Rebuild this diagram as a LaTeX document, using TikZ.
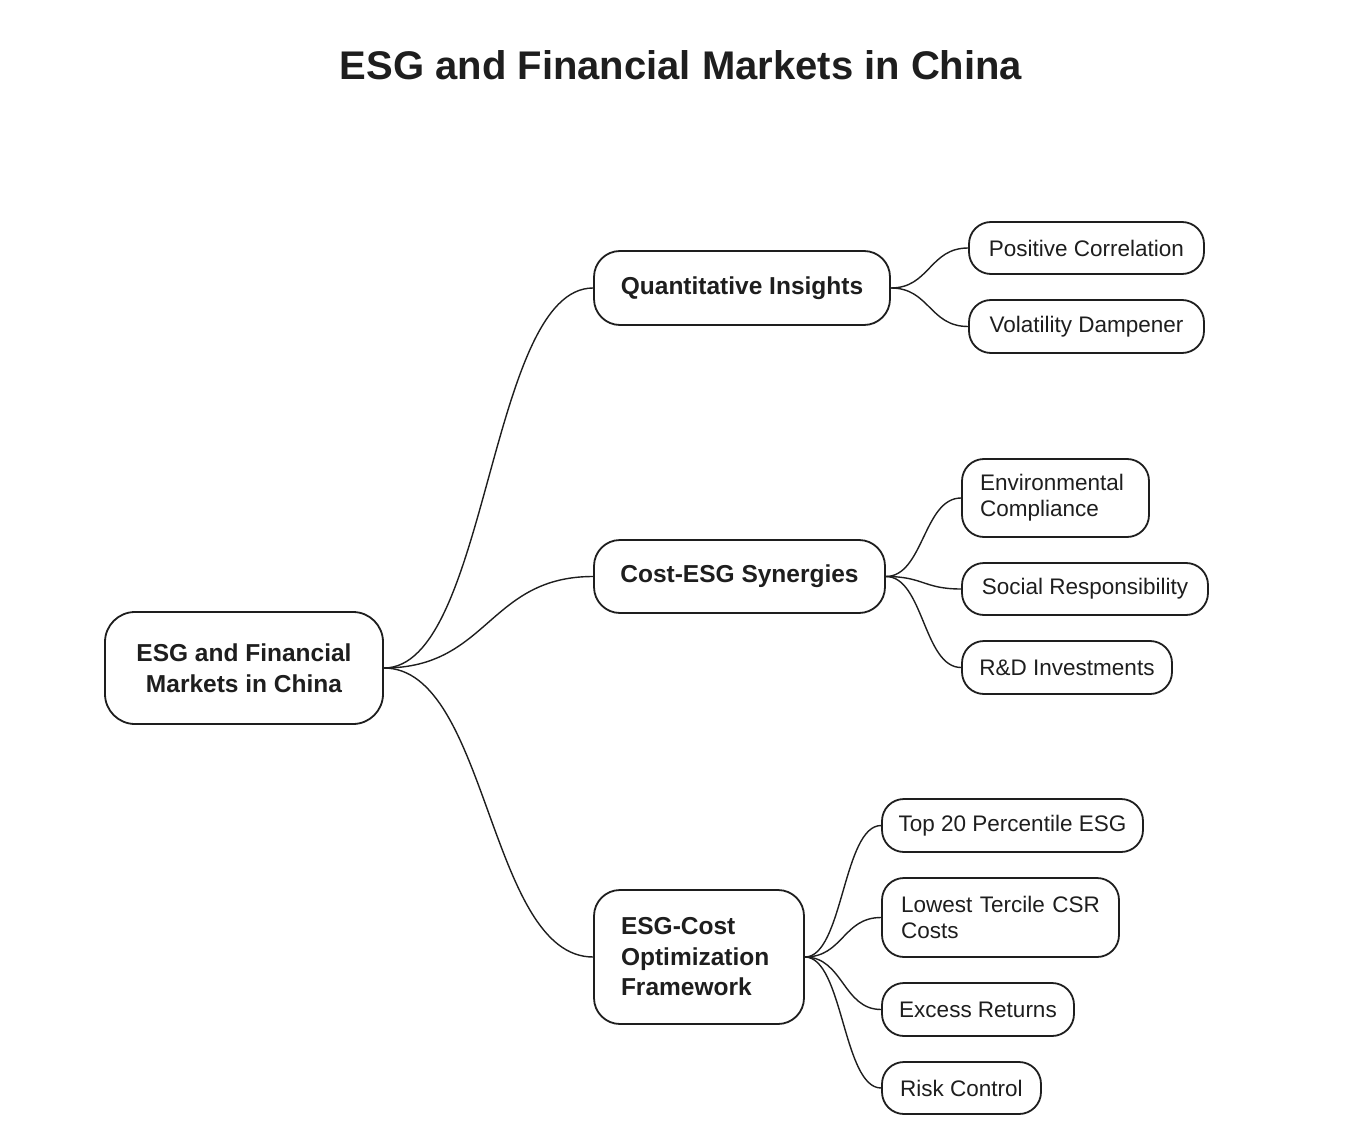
\documentclass[tikz,border=0pt]{standalone}
\usepackage{fontspec}
\setmainfont{Liberation Sans}
\usetikzlibrary{calc}
\definecolor{ink}{HTML}{1E1E1E}
\tikzset{
  box/.style={draw=ink, line width=1.8pt, fill=white, text=ink, inner xsep=0pt, inner ysep=0pt},
  rootbox/.style={box, rounded corners=30pt, font=\bfseries\fontsize{24.5}{31}\selectfont, align=center},
  midbox/.style={box, rounded corners=26pt, font=\bfseries\fontsize{24.5}{30.5}\selectfont, align=center},
  leafbox/.style={box, rounded corners=22pt, font=\fontsize{22.5}{26}\selectfont, align=center},
  conn/.style={draw=ink, line width=1.4pt, to path={let \p1=(\tikztostart), \p2=(\tikztotarget) in .. controls ({(\x1+\x2)/2},\y1) and ({(\x1+\x2)/2},\y2) .. (\tikztotarget) \tikztonodes}},
  titlestyle/.style={text=ink, font=\bfseries\fontsize{40}{48}\selectfont}
}
\begin{document}
\begin{tikzpicture}[x=1pt,y=1pt]
\useasboundingbox (0,0) rectangle (1362,-1147);
\node[titlestyle] (title) at (681,-65) {ESG and Financial Markets in China};

\node[rootbox, minimum width=278pt, minimum height=112pt] (root) at (244,-668) {ESG and Financial\\Markets in China};

\node[midbox, minimum width=296pt, minimum height=74pt] (q) at (742,-288) {Quantitative Insights};
\node[midbox, minimum width=291pt, minimum height=73pt] (c) at (739.5,-576.5) {Cost-ESG Synergies};
\node[midbox, minimum width=210pt, minimum height=134pt, text width=156pt, align=left] (o) at (699,-957) {ESG-Cost\\Optimization\\Framework};

\node[leafbox, minimum width=235pt, minimum height=52pt] (pc) at (1086.5,-248) {Positive Correlation};
\node[leafbox, minimum width=235pt, minimum height=53pt] (vd) at (1086.5,-326.5) {Volatility Dampener};

\node[leafbox, minimum width=187pt, minimum height=78pt, text width=151pt, align=left] (env) at (1055.5,-498) {Environmental\\Compliance};
\node[leafbox, minimum width=246pt, minimum height=52pt] (sr) at (1085,-589) {Social Responsibility};
\node[leafbox, minimum width=210pt, minimum height=53pt] (rd) at (1067,-667.5) {R\&D Investments};

\node[leafbox, minimum width=261pt, minimum height=53pt] (top) at (1012.5,-825.5) {Top 20 Percentile ESG};
\node[leafbox, minimum width=237pt, minimum height=79pt, text width=199pt, align=left] (low) at (1000.5,-917.5) {Lowest Tercile CSR\\Costs};
\node[leafbox, minimum width=192pt, minimum height=53pt] (ex) at (978,-1009.5) {Excess Returns};
\node[leafbox, minimum width=159pt, minimum height=52pt] (rc) at (961.5,-1088) {Risk Control};

\path (root.east) edge[conn] (q.west)
      (root.east) edge[conn] (c.west)
      (root.east) edge[conn] (o.west);
\path (q.east) edge[conn] (pc.west)
      (q.east) edge[conn] (vd.west);
\path (c.east) edge[conn] (env.west)
      (c.east) edge[conn] (sr.west)
      (c.east) edge[conn] (rd.west);
\path (o.east) edge[conn] (top.west)
      (o.east) edge[conn] (low.west)
      (o.east) edge[conn] (ex.west)
      (o.east) edge[conn] (rc.west);
\end{tikzpicture}
\end{document}
